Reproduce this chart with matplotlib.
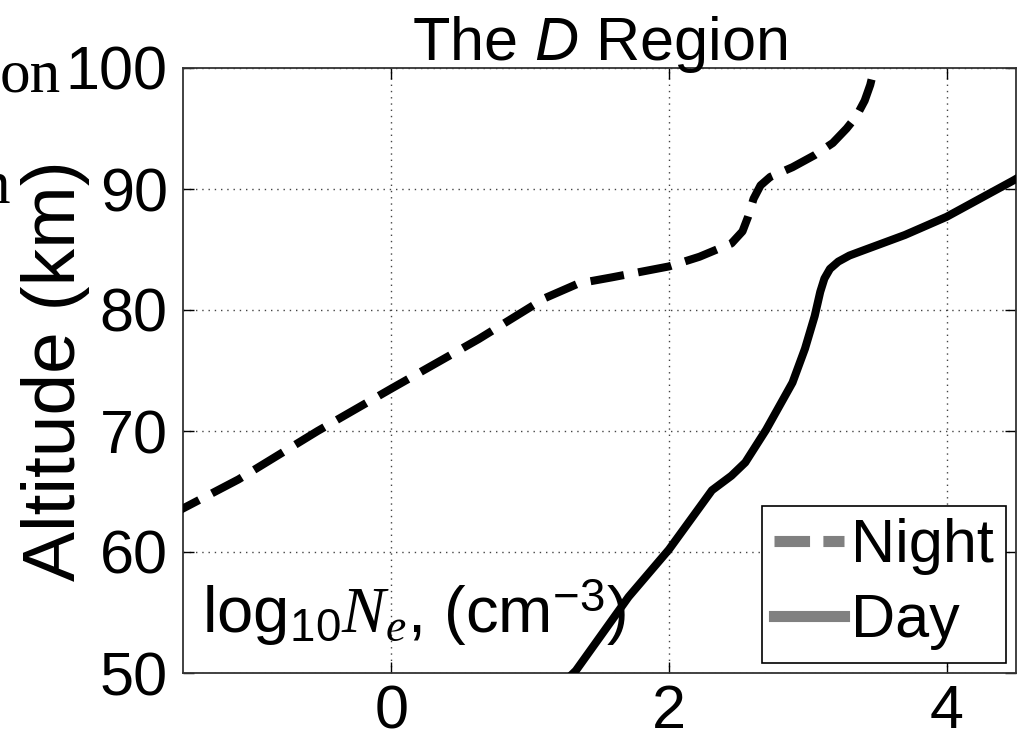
import matplotlib
matplotlib.use("Agg")
import matplotlib.pyplot as plt
from matplotlib.lines import Line2D

# --- Données
night_logne = [-1.6, -1.1, -0.53, 0.0, 0.63, 1.11, 1.35, 1.59, 2.0, 2.22, 2.45,
               2.53, 2.57, 2.61, 2.66, 2.73, 2.89, 3.05, 3.18, 3.28, 3.35, 3.41,
               3.45, 3.48, 3.5]
night_alt = [63.0, 66.0, 70.0, 73.5, 77.6, 81.0, 82.2, 82.7, 83.6, 84.4, 85.5,
             86.5, 87.7, 89.2, 90.3, 91.0, 91.8, 92.8, 93.8, 95.0, 96.0, 97.3,
             98.6, 100.0, 101.0]

day_logne = [1.25, 1.33, 1.71, 2.0, 2.31, 2.45, 2.55, 2.70, 2.89, 2.98, 3.05,
             3.09, 3.12, 3.16, 3.22, 3.3, 3.37, 3.7, 4.0, 4.48, 4.6]
day_alt = [49.3, 50.2, 56.3, 60.2, 65.1, 66.3, 67.4, 70.1, 74.0, 76.8, 79.5,
           81.5, 82.6, 83.4, 84.0, 84.5, 84.8, 86.2, 87.7, 90.7, 91.5]

x_ticks = [0, 2, 4]
y_ticks = [50, 60, 70, 80, 90, 100]

plt.rcParams.update({
    "font.family": ["Liberation Sans", "DejaVu Sans"],
    "mathtext.fontset": "custom",
    "mathtext.rm": "Liberation Sans",
    "mathtext.it": "Liberation Serif:italic",
    "mathtext.sf": "Liberation Sans:italic",
})

fig = plt.figure(figsize=(10.24, 7.4), dpi=100)
ax = fig.add_axes([183 / 1024, 1 - 673 / 740, 833 / 1024, 605 / 740])

ax.plot(night_logne, night_alt, color="black", lw=5.8, ls=(0, (4.2, 1.8)), zorder=3)
ax.plot(day_logne, day_alt, color="black", lw=5.8, zorder=3)

ax.set_xlim(-1.5, 4.5)
ax.set_ylim(50, 100)
ax.set_xticks(x_ticks)
ax.set_yticks(y_ticks)
ax.tick_params(direction="in", length=8, width=1, labelsize=44, top=True, right=True)
ax.tick_params(axis="x", pad=8)
ax.tick_params(axis="y", pad=11)

# Grille pointillée façon MATLAB
ax.grid(True, color="#444444", ls=(0, (1, 3.5)), lw=1.0)
ax.set_axisbelow(True)
for s in ax.spines.values():
    s.set_linewidth(1.3)
    s.set_color("#333333")

ax.set_ylabel("Altitude (km)", fontsize=54)
ax.yaxis.set_label_coords(-0.112, 0.5)
ax.set_title(r"The $\mathsf{D}$ Region", fontsize=44, pad=6)

ax.text(-1.36, 53.3, r"log$_{10}N_e$, (cm$^{-3}$)", fontsize=47, zorder=1, va="baseline")

# Légende (poignées grises)
handles = [
    Line2D([], [], color="#808080", lw=8, ls=(0, (3.2, 1.2))),
    Line2D([], [], color="#808080", lw=8),
]
leg = ax.legend(handles, ["Night", "Day"], loc="lower right", fontsize=44,
                handlelength=1.15, handletextpad=0.1, labelspacing=0.3,
                borderpad=0.2, borderaxespad=0.17, fancybox=False,
                framealpha=1, edgecolor="black")
leg.get_frame().set_linewidth(1.2)

# Morceaux de texte rognés en bord de page
fig.text(0 / 1024, 1 - 92 / 740, "on", family="Liberation Serif", fontsize=44, va="baseline")
fig.text(-20 / 1024, 1 - 203 / 740, "n", family="Liberation Serif", fontsize=44, va="baseline")

fig.savefig("out.png", dpi=100)
